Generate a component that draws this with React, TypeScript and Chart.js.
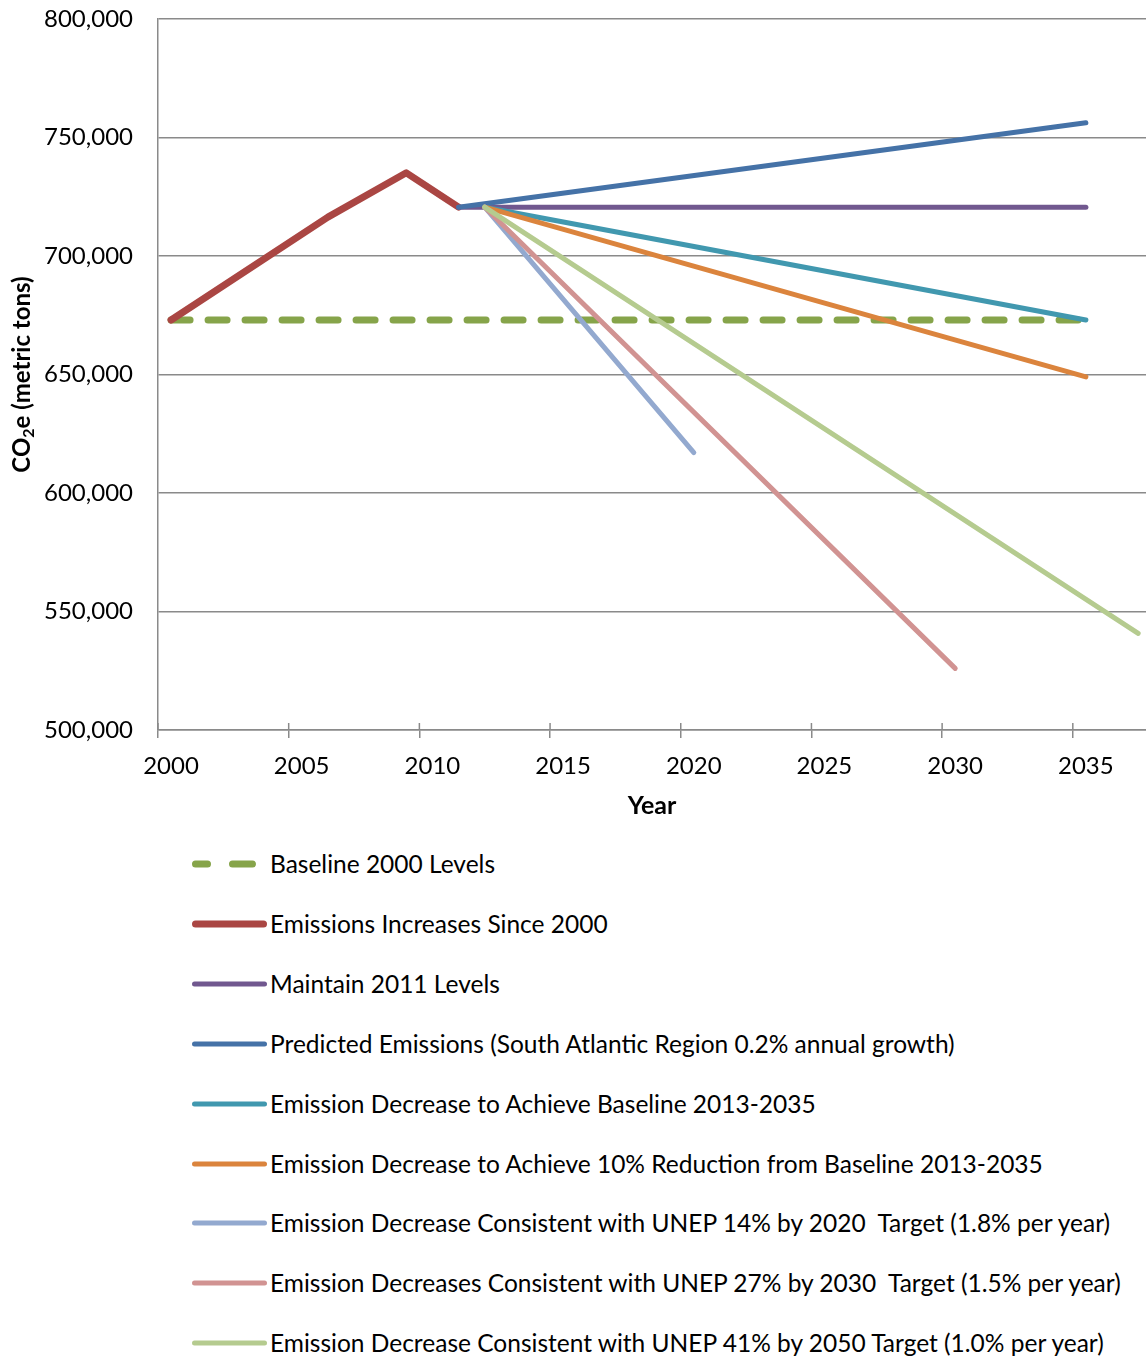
import React, { useEffect, useRef } from "react";
import { Chart, registerables } from "chart.js";

Chart.register(...registerables);

const FONT = "Lato, 'Open Sans', 'DejaVu Sans', sans-serif";
const GRID = "#8a8a8a";

// Axis ticks
const xTickYears = [2000, 2005, 2010, 2015, 2020, 2025, 2030, 2035];
const yTickValues = [500000, 550000, 600000, 650000, 700000, 750000, 800000];

// Series labels and styles
const seriesLabels = [
  "Baseline 2000 Levels",
  "Emissions Increases Since 2000",
  "Maintain 2011 Levels",
  "Predicted Emissions (South Atlantic Region 0.2% annual growth)",
  "Emission Decrease to Achieve Baseline 2013-2035",
  "Emission Decrease to Achieve 10% Reduction from Baseline 2013-2035",
  "Emission Decrease Consistent with UNEP 14% by 2020  Target (1.8% per year)",
  "Emission Decreases Consistent with UNEP 27% by 2030  Target (1.5% per year)",
  "Emission Decrease Consistent with UNEP 41% by 2050 Target (1.0% per year)",
];
const seriesColors = [
  "#86A44A",
  "#AA4643",
  "#71588F",
  "#4572A7",
  "#4198AF",
  "#DB843D",
  "#93A9CF",
  "#D19392",
  "#B5CB8F",
];
const seriesWidths = [7, 7, 5, 5, 5, 5, 5, 5, 5];

// Series data (years / CO2e metric tons)
const baselineYears = [2000, 2035];
const baselineValues = [673000, 673000];
const increaseYears = [2000, 2006, 2009, 2011];
const increaseValues = [673000, 716400, 735100, 720600];
const maintainYears = [2011, 2035];
const maintainValues = [720600, 720600];
const predictedYears = [2011, 2035];
const predictedValues = [720600, 756200];
const toBaselineYears = [2012, 2035];
const toBaselineValues = [720600, 673000];
const tenPctYears = [2012, 2035];
const tenPctValues = [720600, 649000];
const unep2020Years = [2012, 2020];
const unep2020Values = [720600, 617000];
const unep2030Years = [2012, 2030];
const unep2030Values = [720600, 526000];
const unep2050Years = [2012, 2037];
const unep2050Values = [720600, 540800];

const seriesYears = [
  baselineYears, increaseYears, maintainYears, predictedYears, toBaselineYears,
  tenPctYears, unep2020Years, unep2030Years, unep2050Years,
];
const seriesValues = [
  baselineValues, increaseValues, maintainValues, predictedValues, toBaselineValues,
  tenPctValues, unep2020Values, unep2030Values, unep2050Values,
];

const yTitlePlugin = {
  id: "yTitleSub",
  afterDraw(chart: any) {
    const { ctx, chartArea } = chart;
    const cy = (chartArea.top + chartArea.bottom) / 2;
    const cx = 22;
    ctx.save();
    ctx.translate(cx, cy);
    ctx.rotate(-Math.PI / 2);
    const big = `bold 24px ${FONT}`;
    const small = `bold 16px ${FONT}`;
    ctx.font = big;
    const w1 = ctx.measureText("CO").width;
    const w3 = ctx.measureText("e (metric tons)").width;
    ctx.font = small;
    const w2 = ctx.measureText("2").width;
    const total = w1 + w2 + w3;
    let x = -total / 2;
    ctx.fillStyle = "#000";
    ctx.textBaseline = "alphabetic";
    ctx.textAlign = "left";
    const base = 8;
    ctx.font = big;
    ctx.fillText("CO", x, base);
    x += w1;
    ctx.font = small;
    ctx.fillText("2", x, base + 4);
    x += w2;
    ctx.font = big;
    ctx.fillText("e (metric tons)", x, base);
    ctx.restore();
  },
};

const innerTickPlugin = {
  id: "innerTicks",
  afterDraw(chart: any) {
    const { ctx, chartArea } = chart;
    const xs = chart.scales.x;
    ctx.save();
    ctx.strokeStyle = GRID;
    ctx.lineWidth = 1.5;
    xs.ticks.forEach((t: any) => {
      const px = xs.getPixelForValue(t.value);
      ctx.beginPath();
      ctx.moveTo(px, chartArea.bottom - 7);
      ctx.lineTo(px, chartArea.bottom);
      ctx.stroke();
    });
    ctx.restore();
  },
};

function LegendSample({ index }: { index: number }) {
  const color = seriesColors[index];
  const w = seriesWidths[index];
  if (index === 0) {
    return (
      <svg width={80} height={20} style={{ position: "absolute", left: 188, top: -10 }}>
        <line x1={7.5} y1={10} x2={64.5} y2={10} stroke={color} strokeWidth={w}
          strokeLinecap="round" strokeDasharray="12 25 20 60" />
      </svg>
    );
  }
  return (
    <svg width={82} height={20} style={{ position: "absolute", left: 188, top: -10 }}>
      <line x1={4 + w / 2} y1={10} x2={79 - w / 2} y2={10} stroke={color} strokeWidth={w}
        strokeLinecap="round" />
    </svg>
  );
}

export default function App() {
  const canvasRef = useRef<HTMLCanvasElement | null>(null);

  useEffect(() => {
    if (!canvasRef.current) return;
    const datasets = seriesLabels.map((label, i) => ({
      label,
      data: seriesYears[i].map((yr, j) => ({ x: yr, y: seriesValues[i][j] })),
      borderColor: seriesColors[i],
      backgroundColor: seriesColors[i],
      borderWidth: seriesWidths[i],
      borderDash: i === 0 ? [19, 18] : [],
      borderCapStyle: "round",
      borderJoinStyle: "round",
      pointRadius: 0,
      fill: false,
      tension: 0,
      order: -i,
    }));
    const chart = new Chart(canvasRef.current, {
      type: "line",
      data: { datasets } as any,
      options: {
        responsive: false,
        animation: false,
        layout: { padding: { top: 19, left: 0, right: 0, bottom: 0 } },
        plugins: { legend: { display: false }, tooltip: { enabled: false } },
        scales: {
          x: {
            type: "linear",
            min: 1999.5,
            max: 2037.3,
            afterBuildTicks: (s: any) => {
              s.ticks = xTickYears.map((y) => ({ value: y - 0.5 }));
            },
            afterFit: (s: any) => {
              s.height = 100;
            },
            grid: { drawOnChartArea: false, drawTicks: true, tickLength: 8, color: GRID, lineWidth: 1.5 },
            border: { color: GRID, width: 1.5 },
            ticks: {
              autoSkip: false,
              maxRotation: 0,
              labelOffset: 13,
              padding: 14,
              color: "#000",
              font: { family: FONT, size: 24 },
              callback: (v: any) => String(Math.round(Number(v) + 0.5)),
            },
            title: {
              display: true,
              text: "Year",
              color: "#000",
              font: { family: FONT, size: 25, weight: "bold" },
              padding: { top: 0, bottom: 9 },
            },
          },
          y: {
            type: "linear",
            min: 500000,
            max: 800000,
            afterBuildTicks: (s: any) => {
              s.ticks = yTickValues.map((v) => ({ value: v }));
            },
            afterFit: (s: any) => {
              s.width = 158;
            },
            grid: { color: GRID, lineWidth: 1.5, drawTicks: true, tickLength: 25, tickColor: "rgba(0,0,0,0)" },
            border: { color: GRID, width: 1.5 },
            ticks: {
              padding: 0,
              color: "#000",
              font: { family: FONT, size: 24 },
              callback: (v: any) => Number(v).toLocaleString("en-US"),
            },
          },
        },
      } as any,
      plugins: [yTitlePlugin, innerTickPlugin],
    });
    return () => chart.destroy();
  }, []);

  return (
    <div style={{ position: "absolute", left: 0, top: 0, width: 1146, height: 1359, background: "#fff", overflow: "hidden" }}>
      <canvas ref={canvasRef} width={1146} height={830} style={{ display: "block", width: 1146, height: 830 }} />
      {seriesLabels.map((label, i) => (
        <div key={label} style={{ position: "absolute", left: 0, top: 864 + 59.9 * i, width: 1146, height: 0 }}>
          <LegendSample index={i} />
          <span
            style={{
              position: "absolute",
              left: 270,
              top: -15,
              height: 30,
              lineHeight: "30px",
              fontFamily: FONT,
              fontSize: 24.5,
              whiteSpace: "pre",
              color: "#000",
            }}
          >
            {label}
          </span>
        </div>
      ))}
    </div>
  );
}
